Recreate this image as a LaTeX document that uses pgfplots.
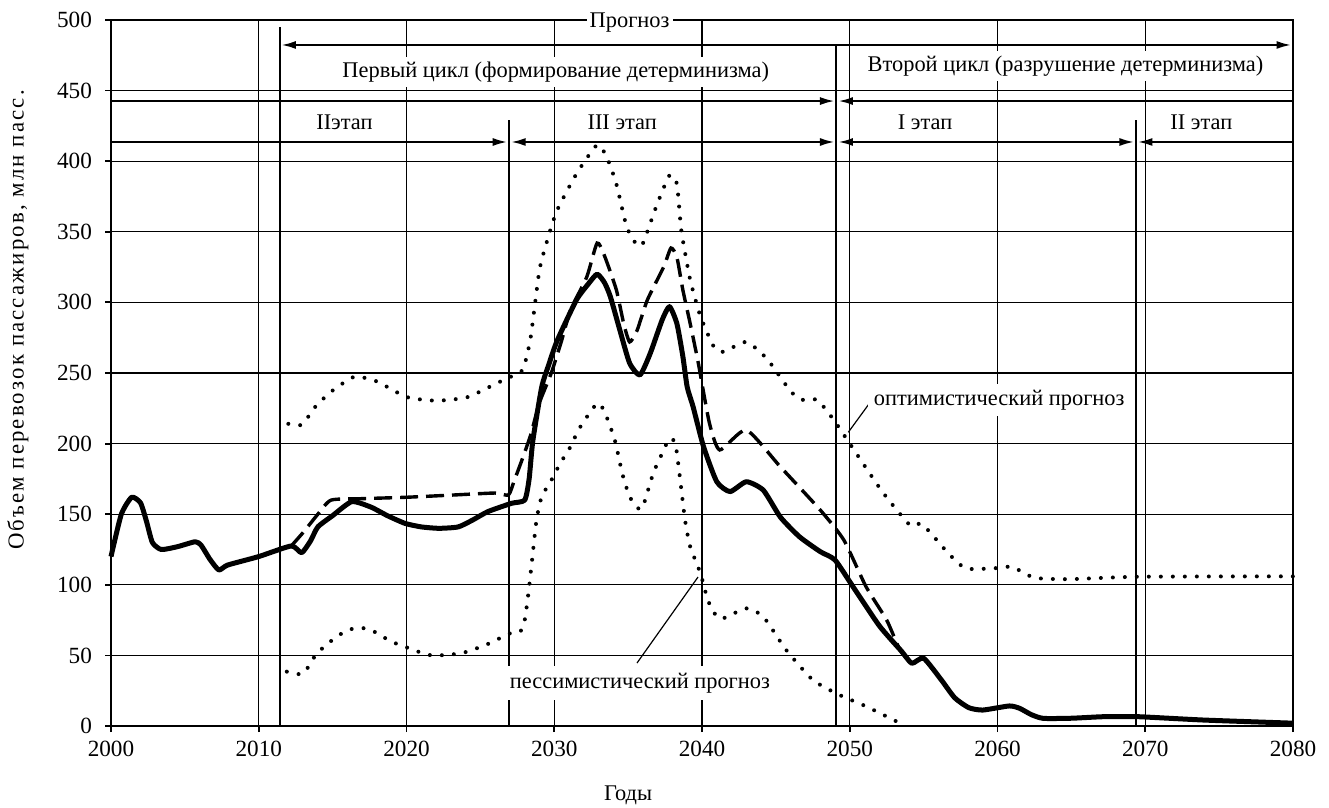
\documentclass[border=0pt]{standalone}
\usepackage{pgfplots}
\pgfplotsset{compat=1.18}
\usepackage{pgfplotstable}
\usepackage{fontspec}
\setmainfont{Liberation Serif}
\newfontfamily\spacedfont[LetterSpace=9.5]{Liberation Serif}
\usetikzlibrary{arrows.meta}

\pgfplotstableread{
x y
2000 120
2000.7 150
2001.4 162
2002.0 158
2002.4 145
2002.8 130
2003.4 125
2004.5 127
2005.7 130.5
2006.1 128
2006.7 118
2007.3 110.5
2007.9 114
2010 120
2012.2 127.5
2012.9 122.7
2013.5 131
2014.0 141
2015.0 149
2016.3 158.9
2017.6 155
2018.7 149
2019.9 143.5
2021 141
2022.2 140
2023.5 141
2024.5 146
2025.5 151.8
2027.1 157.7
2028.0 160
2028.3 175
2028.55 202
2029.15 240
2029.6 255
2030.2 273
2031.5 301.7
2032.3 313
2032.9 320
2033.4 314
2033.8 304
2034.45 280
2035.1 257
2035.8 248.6
2036.5 264
2037.3 287.5
2037.8 297
2038.3 285
2038.7 262
2039.0 240
2039.4 226
2040.1 198
2041.0 173
2041.9 166
2043.0 173
2044.15 167
2045.3 148
2046.6 134
2048.0 123.5
2049.0 117.6
2050.2 99
2052.0 71
2053.5 53
2054.2 44.4
2055.0 48
2056.2 32.6
2057.1 20
2058.05 13
2059.0 11.3
2060.8 14.2
2061.5 12.5
2062.3 8
2063.1 5.4
2065 5.5
2067.2 6.6
2069.5 6.6
2074.0 4.2
2080 2
}\tabsolid

\pgfplotstableread{
x y
2012.2 127.5
2013.0 137
2014.0 150
2014.9 160
2017 161
2020 162
2023 163.5
2026 165
2026.9 163.6
2027.3 174
2027.8 188
2028.4 206
2029.0 229
2029.8 250
2030.5 273
2031.1 294.6
2032.2 318
2032.9 342
2033.4 333
2034.2 309
2034.7 285
2035.1 272
2035.6 280
2036.3 301.7
2037.4 325
2037.9 338.5
2038.3 332
2038.7 309
2039.2 285
2039.75 257
2040.5 214.6
2041.2 195.5
2043.0 209.6
2045.3 183.6
2048.0 153
2049.6 131.7
2051.1 98.7
2052.5 75
2053.4 53.8
2054.2 45
}\tabdashed

\pgfplotstableread{
x y
2012.0 214
2012.6 213
2013.0 214
2013.9 227
2015.05 238
2016.5 247.4
2018.0 244
2020.0 233
2022.0 230.4
2024.1 232.8
2026.1 242.7
2027.3 248.6
2027.9 253
2028.4 275
2029.0 323
2029.6 346.5
2030.2 365.4
2031.5 391
2032.9 411.5
2033.55 403
2034.2 384
2034.9 353.6
2035.6 340.6
2036.0 341.8
2036.9 367.8
2037.8 390
2038.3 384
2038.6 351
2039.2 316
2039.9 290
2040.8 268.6
2041.45 265
2043.0 272
2044.4 260
2046.0 237
2046.8 231
2047.8 231
2048.9 217
2050.0 200
2052.2 166
2054.1 142
2054.9 143
2056.7 122
2057.9 111.5
2060.2 112
2061.0 112.8
2062.5 105
2064.9 104
2069.5 105.7
2080 106
}\tabupper

\pgfplotstableread{
x y
2011.9 38.5
2012.6 36.8
2013.1 37.8
2013.7 48
2014.5 57
2015.8 66.8
2016.7 69.6
2017.6 68
2019.0 59.7
2020.5 53.8
2021.5 50.3
2022.8 50.3
2024.1 52.6
2025.6 58.5
2027.0 65.6
2027.7 66.8
2028.0 75
2028.25 94
2028.5 117.6
2028.8 146
2029.15 162.4
2029.8 174
2030.4 186
2031.1 197.8
2031.7 210.8
2032.9 228.5
2033.4 222.6
2034.1 202.5
2034.6 179
2035.1 162.4
2035.7 154
2036.0 155.3
2036.7 179
2037.3 193
2037.8 203.7
2038.2 200
2038.5 176.5
2038.85 146
2039.2 127
2039.9 108
2040.4 89
2041.0 77.4
2041.45 76.3
2043.0 83.3
2044.15 77.4
2045.7 53.8
2047.5 32.6
2049.3 22
2051.15 13.7
2053.4 2
2053.8 0
}\tablower

\begin{document}
\begin{tikzpicture}[font=\fontsize{11.2pt}{13.5pt}\selectfont]
\begin{axis}[
  width=591pt, height=353pt, scale only axis,
  xmin=2000, xmax=2080, ymin=0, ymax=500,
  xtick={2000,2010,...,2080}, ytick={0,50,...,500},
  grid=major, major grid style={black, line width=0.65pt},
  axis line style={line width=0.65pt},
  tick align=outside, tick pos=left,
  major tick length=3pt,
  tick style={black, line width=0.9pt},
  /pgf/number format/assume math mode=true,
  ticklabel style={font=\fontsize{11.6pt}{14pt}\selectfont},
  xticklabel style={/pgf/number format/1000 sep={}, yshift=-1pt},
  yticklabel style={xshift=-3pt},
  clip=false,
  every axis plot/.append style={smooth, tension=0.35, black},
]
% data curves
\addplot[line width=2pt, dash pattern=on 0pt off 6pt, line cap=round] table {\tabupper};
\addplot[line width=2pt, dash pattern=on 0pt off 6pt, line cap=round] table {\tablower};
\addplot[line width=1.7pt, dash pattern=on 9pt off 4pt] table {\tabdashed};
\addplot[line width=2.5pt, line join=round] table {\tabsolid};

% thick left and bottom axis lines
\draw[line width=1.3pt] (axis cs:2000,0) -- (axis cs:2000,500);
\draw[line width=1.3pt] (axis cs:2000,0) -- (axis cs:2080,0);

% vertical separators
\draw[line width=1pt] (axis cs:2011.44,495) -- (axis cs:2011.44,0);
\draw[line width=1pt] (axis cs:2026.94,429) -- (axis cs:2026.94,0);
\draw[line width=1pt] (axis cs:2049.1,482.5) -- (axis cs:2049.1,0);
\draw[line width=1pt] (axis cs:2069.37,429) -- (axis cs:2069.37,0);

% horizontal arrows
\tikzset{arr/.style={line width=1.2pt, -{Latex[length=7.5pt,width=4pt]}},
         darr/.style={line width=1.2pt, {Latex[length=7.5pt,width=4pt]}-{Latex[length=7.5pt,width=4pt]}}}
\draw[darr] (axis cs:2011.5,482.3) -- (axis cs:2079.9,482.3);
\draw[arr] (axis cs:2000,442.6) -- (axis cs:2049.0,442.6);
\draw[arr] (axis cs:2080,442.6) -- (axis cs:2049.2,442.6);
\draw[arr] (axis cs:2000,413.6) -- (axis cs:2026.85,413.6);
\draw[darr] (axis cs:2027.05,413.6) -- (axis cs:2049.0,413.6);
\draw[darr] (axis cs:2049.2,413.6) -- (axis cs:2069.27,413.6);
\draw[arr] (axis cs:2080,413.6) -- (axis cs:2069.47,413.6);

% text labels
\tikzset{lab/.style={fill=white, inner sep=1.5pt}}
\node[lab] at (axis cs:2035.1,498.3) {Прогноз};
\node[lab, inner sep=2.5pt] at (axis cs:2030.1,463) {Первый цикл (формирование детерминизма)};
\node[lab, inner sep=2.5pt] at (axis cs:2064.6,467.4) {Второй цикл (разрушение детерминизма)};
\node[lab] at (axis cs:2015.8,427.8) {IIэтап};
\node[lab] at (axis cs:2034.6,427.8) {III этап};
\node[lab] at (axis cs:2055.1,427.8) {I этап};
\node[lab] at (axis cs:2073.8,427.5) {II этап};

% leader lines and forecast labels
\draw[line width=0.6pt] (axis cs:2049.9,208) -- (axis cs:2051.4,229.5);
\node[lab, inner sep=3pt, anchor=west] at (axis cs:2051.2,231) {оптимистический прогноз};
\draw[line width=0.6pt] (axis cs:2035.6,44.6) -- (axis cs:2039.73,105.5);
\node[lab, inner sep=3.5pt] at (axis cs:2035.8,30.5) {пессимистический прогноз};

% axis titles
\node at (axis cs:2035.0,-48.9) {Годы};
\node[rotate=90, font=\spacedfont\fontsize{11.4pt}{13.5pt}\selectfont] at (axis cs:1993.7,287.6) {Объем перевозок пассажиров, млн пасс.};

\coordinate (bl) at (rel axis cs:0,0);
\coordinate (tr) at (rel axis cs:1,1);
\end{axis}
\pgfresetboundingbox
\path ([shift={(-55.5pt,-40.5pt)}]bl) rectangle ([shift={(18pt,10pt)}]tr);
\end{tikzpicture}
\end{document}
